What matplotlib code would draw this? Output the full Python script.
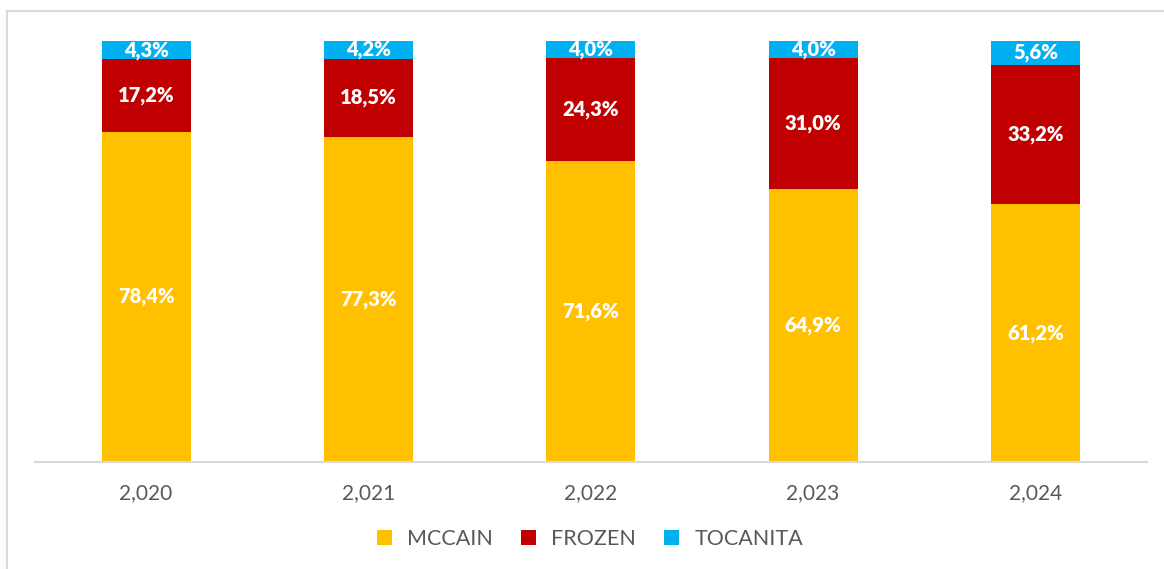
import matplotlib.pyplot as plt
import numpy as np
from matplotlib.patches import Rectangle

years = ['2,020', '2,021', '2,022', '2,023', '2,024']
mccain = [78.4, 77.3, 71.6, 64.9, 61.2]
frozen = [17.2, 18.5, 24.3, 31.0, 33.2]
tocanita = [4.3, 4.2, 4.0, 4.0, 5.6]

colors = {'MCCAIN': '#FFC000', 'FROZEN': '#C00000', 'TOCANITA': '#00B0F0'}
plt.rcParams['font.family'] = ['Lato', 'DejaVu Sans']

fig = plt.figure(figsize=(11.64, 5.69), dpi=100)
ax = fig.add_axes([0.030, 0.188, 0.955, 0.740])

# light grey frame around the chart area
fig.patches.append(Rectangle((7 / 1164, -0.05), 1.2, 1 - 11 / 569 + 0.05,
                             transform=fig.transFigure, fill=False,
                             edgecolor='#D9D9D9', linewidth=1.5))

x = np.arange(len(years))
bottom = np.zeros(len(years))
for name, vals in [('MCCAIN', mccain), ('FROZEN', frozen), ('TOCANITA', tocanita)]:
    vals = np.array(vals)
    ax.bar(x, vals, 0.4, bottom=bottom, color=colors[name], label=name)
    for xi, b, v in zip(x, bottom, vals):
        ax.text(xi, b + v / 2, f'{v:.1f}%'.replace('.', ','), ha='center', va='center',
                color='white', fontsize=14.5, fontweight='heavy')
    bottom += vals

ax.set_xlim(-0.5, len(years) - 0.5)
ax.set_ylim(0, 100)
ax.set_xticks(x)
ax.set_xticklabels(years, fontsize=15, color='#595959')
ax.tick_params(axis='x', length=0, pad=15)
ax.set_yticks([])
for s in ['top', 'right', 'left']:
    ax.spines[s].set_visible(False)
ax.spines['bottom'].set_color('#D9D9D9')
ax.spines['bottom'].set_linewidth(1.5)

leg = fig.legend(loc='center', bbox_to_anchor=(0.507, 0.052), ncol=3, frameon=False,
                 fontsize=15.5, handlelength=0.7, handleheight=0.7, columnspacing=1.3,
                 handletextpad=0.7)
for t in leg.get_texts():
    t.set_color('#595959')

fig.savefig('out.png', dpi=100)
